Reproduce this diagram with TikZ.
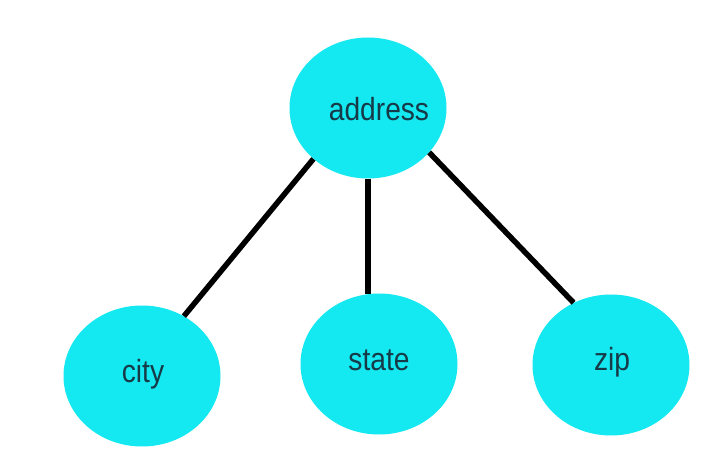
\documentclass[tikz,border=0pt]{standalone}
\usepackage{fontspec}
\setmainfont{Liberation Sans}[FakeStretch=0.88]
\usetikzlibrary{shapes.geometric}
\definecolor{nodecyan}{RGB}{20,232,240}
\definecolor{labelink}{RGB}{22,58,72}
\tikzset{
  attr/.style={ellipse, fill=nodecyan, draw=none, inner sep=0pt,
               minimum width=157pt, minimum height=141pt},
  attrtext/.style={text=labelink, font=\fontsize{32}{34}\selectfont,
                   inner sep=0pt, anchor=base},
  link/.style={line width=5.5pt, draw=black}
}
\begin{document}
\begin{tikzpicture}[x=1pt,y=1pt]
  \useasboundingbox[fill=white] (0,0) rectangle (705,472);

  % attribute bubbles
  \node[attr] (address) at (368,364) {};
  \node[attr] (city)    at (142,96)  {};
  \node[attr] (state)   at (379,108) {};
  \node[attr] (zip)     at (611,107) {};

  % their labels (placed by baseline)
  \node[attrtext] (taddress) at (379,351) {address};
  \node[attrtext] (tcity)    at (143,90)  {city};
  \node[attrtext] (tstate)   at (379,102) {state};
  \node[attrtext] (tzip)     at (612,102) {zip};

  % links from the parent to each child
  \draw[link] (address.223) -- (city.55);
  \draw[link] (address.270) -- (address.270 |- state.98);
  \draw[link] (address.324) -- (zip.121);
\end{tikzpicture}
\end{document}
